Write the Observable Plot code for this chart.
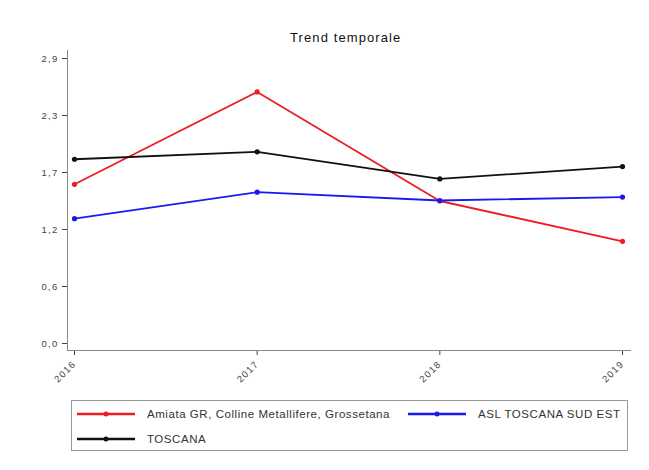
<!DOCTYPE html>
<html><head><meta charset="utf-8">
<script src="https://cdn.jsdelivr.net/npm/d3@7"></script>
<script src="https://cdn.jsdelivr.net/npm/@observablehq/plot@0.6"></script>
<style>
body{margin:0;background:#fff;font-family:"Liberation Sans",Arial,sans-serif;}
#wrap{position:relative;width:649px;height:470px;}
#title{position:absolute;top:30px;left:290px;font-size:13px;letter-spacing:1.1px;color:#111;white-space:nowrap;}
#chart{position:absolute;top:45px;left:0;}
#legend{position:absolute;left:71px;top:400px;width:557px;height:51px;border:1px solid #999;box-sizing:border-box;font-size:11.5px;letter-spacing:0.55px;color:#333;}
.item{position:absolute;display:flex;align-items:center;white-space:nowrap;}
.item svg{margin-right:12px;}
</style></head><body>
<div id="wrap">
<div id="title">Trend temporale</div>
<div id="chart"></div>
<div id="legend"></div>
</div>
<script>
const years = [2016, 2017, 2018, 2019];
const seriesNames = ["Amiata GR, Colline Metallifere, Grossetana", "ASL TOSCANA SUD EST", "TOSCANA"];
const amiata = [1.62, 2.56, 1.45, 1.04];
const asl = [1.27, 1.54, 1.455, 1.49];
const toscana = [1.875, 1.95, 1.675, 1.80];
const colors = ["#ee1c24", "#1a1aee", "#111111"];
const yTicks = [0, 0.58, 1.16, 1.74, 2.32, 2.9];

const values = [amiata, asl, toscana];
const data = [];
values.forEach((arr, s) => arr.forEach((v, i) => data.push({year: years[i], value: v, series: seriesNames[s]})));

const plot = Plot.plot({
  width: 649, height: 355,
  marginLeft: 67, marginRight: 19, marginTop: 5, marginBottom: 50,
  insetLeft: 7, insetRight: 8, insetTop: 8, insetBottom: 7,
  style: {fontFamily: "Liberation Sans, Arial, sans-serif", fontSize: "9.5px", color: "#444", letterSpacing: "1.3px"},
  x: {domain: [2016, 2019], ticks: years, tickFormat: d => String(d), tickRotate: -45, tickSize: 5, label: null},
  y: {domain: [0, 2.9], ticks: yTicks, tickFormat: d => d.toFixed(1).replace(".", ","), tickSize: 5, label: null},
  color: {domain: seriesNames, range: colors},
  marks: [
    Plot.frame({anchor: "left", stroke: "#888"}),
    Plot.frame({anchor: "bottom", stroke: "#888"}),
    Plot.line(data, {x: "year", y: "value", z: "series", stroke: "series", strokeWidth: 1.8}),
    Plot.dot(data, {x: "year", y: "value", fill: "series", r: 2.6})
  ]
});
document.getElementById("chart").appendChild(plot);

const legend = document.getElementById("legend");
const pos = [[5, 7], [336, 7], [5, 32]];
seriesNames.forEach((name, i) => {
  const d = document.createElement("div");
  d.className = "item";
  d.style.left = pos[i][0] + "px";
  d.style.top = pos[i][1] + "px";
  d.innerHTML = `<svg width="58" height="10"><line x1="0" y1="5" x2="58" y2="5" stroke="${colors[i]}" stroke-width="2.4"/><circle cx="29" cy="5" r="2.5" fill="${colors[i]}"/></svg><span>${name}</span>`;
  legend.appendChild(d);
});
</script>
</body></html>
